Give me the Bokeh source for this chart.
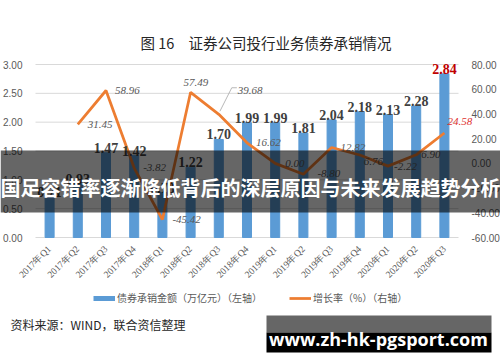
from bokeh.plotting import figure
from bokeh.models import (Range1d, LinearAxis, FixedTicker, NumeralTickFormatter,
                          Label, BoxAnnotation, Legend, LegendItem)
from bokeh.core.properties import value
from bokeh.embed import file_html
from bokeh.resources import INLINE
import math

# ---- data ----
quarters = ["2017年Q1", "2017年Q2", "2017年Q3", "2017年Q4",
            "2018年Q1", "2018年Q2", "2018年Q3", "2018年Q4",
            "2019年Q1", "2019年Q2", "2019年Q3", "2019年Q4",
            "2020年Q1", "2020年Q2", "2020年Q3"]
underwriting = [0.71, 0.93, 1.47, 1.42, 0.78, 1.22, 1.70, 1.99,
                1.99, 1.81, 2.04, 2.18, 2.13, 2.28, 2.84]
growth_quarters = quarters[1:]
growth = [31.45, 58.96, -3.82, -45.42, 57.49, 39.68, 16.62,
          0.00, -8.80, 12.82, 6.76, -2.22, 6.90, 24.58]
left_ticks = [0, 0.5, 1.0, 1.5, 2.0, 2.5, 3.0]
right_ticks = [-60, -40, -20, 0, 20, 40, 60, 80]

title_text = "证券公司投行业务债券承销情况"
fig_no = "图 16"
source_text = "资料来源：WIND，联合资信整理"
bar_name = "债券承销金额（万亿元）（左轴）"
line_name = "增长率（%）（右轴）"
overlay_text = "国足容错率逐渐降低背后的深层原因与未来发展趋势分析"
watermark = "www.zh-hk-pgsport.com"

# label offsets (styling, pixels)
g_dx = [10, 9, 9, 10, -7, 19, 9, 10, 14, 9, 4, 6, 5, 3]
g_dy = [0, 0, 1, 0, 10, 24, 0, 0, 1, 0, -6, 0, 0, 11]

BLUE = "#5b9bd5"
ORANGE = "#ed7d31"
GRAY = "#595959"

# ---- geometry of the plot area inside the 500x362 canvas ----
W, H = 500, 362
PL, PR, PT, PB = 35, 458, 64, 237          # plot area edges (px)
n = len(quarters)
xs = list(range(n))
gx = [quarters.index(q) for q in growth_quarters]
step = (PR - PL) / n
x_start = -0.5 - PL / step
x_end = n - 0.5 + (W - PR) / step
lmin, lmax = left_ticks[0], left_ticks[-1]
ppu = (PB - PT) / (lmax - lmin)
y_start = lmin - (H - PB) / ppu
y_end = lmax + PT / ppu
rmin, rmax = right_ticks[0], right_ticks[-1]
k = (rmax - rmin) / (lmax - lmin)
r_start = rmin + (y_start - lmin) * k
r_end = rmin + (y_end - lmin) * k

p = figure(width=W, height=H, x_range=Range1d(x_start, x_end), y_range=Range1d(y_start, y_end),
           output_backend="svg", toolbar_location=None, min_border=0)
p.extra_y_ranges = {"right": Range1d(r_start, r_end)}
p.outline_line_color = None
p.background_fill_color = "white"
p.border_fill_color = "white"
p.xgrid.visible = False
p.ygrid.visible = False

# horizontal gridlines across the category span
p.segment(x0=[xs[0] - 0.5] * len(left_ticks), x1=[xs[-1] + 0.5] * len(left_ticks),
          y0=left_ticks, y1=left_ticks, color="#d9d9d9", line_width=1)

bars = p.vbar(x=xs, top=underwriting, width=0.32, color=BLUE)
gl = p.line(x=gx, y=growth, y_range_name="right", color=ORANGE, line_width=2.75)

# leader line for 2018Q3 label
i5 = gx[5]
p.line(x=[i5 + 0.04, i5 + 0.46, i5 + 0.64], y=[growth[5] + 2.5, growth[5] + 21.5, growth[5] + 21.5],
       y_range_name="right", color="#a6a6a6", line_width=0.8)

# bar value labels
bar_colors = ["#404040"] * (n - 1) + ["#c00000"]
p.text(x=xs, y=underwriting, text=["%.2f" % v for v in underwriting],
       text_align="center", text_baseline="alphabetic", y_offset=-5,
       text_font=value("Liberation Serif"), text_font_style="bold", text_font_size="14px",
       text_color=bar_colors)

# growth labels
g_colors = ["#595959"] * (len(growth) - 1) + ["#e03030"]
p.text(x=gx, y=growth, text=["%.2f" % v for v in growth], y_range_name="right",
       x_offset=g_dx, y_offset=[-d for d in g_dy], text_align="left", text_baseline="middle",
       text_font=value("Liberation Serif"), text_font_style="italic", text_font_size="11px",
       text_color=g_colors)

# axes (fixed inside the canvas-sized frame)
la = p.yaxis[0]
la.ticker = FixedTicker(ticks=left_ticks)
la.formatter = NumeralTickFormatter(format="0.00")
la.fixed_location = xs[0] - 0.5
ra = LinearAxis(y_range_name="right", ticker=FixedTicker(ticks=right_ticks),
                formatter=NumeralTickFormatter(format="0.00"), fixed_location=xs[-1] + 0.5)
p.add_layout(ra, "right")
for ax in (la, ra):
    ax.axis_line_color = None
    ax.major_tick_line_color = None
    ax.minor_tick_line_color = None
    ax.major_label_text_font = "Liberation Sans"
    ax.major_label_text_font_size = "10px"
    ax.major_label_text_color = GRAY
    ax.major_label_standoff = 7
xa = p.xaxis[0]
xa.ticker = FixedTicker(ticks=xs)
xa.major_label_overrides = {i: q for i, q in zip(xs, quarters)}
xa.fixed_location = lmin
xa.axis_line_color = None
xa.major_tick_line_color = None
xa.minor_tick_line_color = None
xa.major_label_orientation = math.pi / 4
xa.major_label_text_font = "Liberation Serif"
xa.major_label_text_font_size = "9.5px"
xa.major_label_text_color = GRAY
xa.major_label_standoff = 4

# legend (blue swatch drawn by a no-data proxy line)
nan = float("nan")
proxy = p.line(x=[nan, nan], y=[nan, nan], color=BLUE, line_width=5)
legend = Legend(items=[LegendItem(label=bar_name, renderers=[proxy]),
                       LegendItem(label=line_name, renderers=[gl])],
                orientation="horizontal", location=(93, H - 305),
                border_line_color=None, background_fill_alpha=0,
                label_text_font_size="10px", label_text_color=GRAY,
                label_text_font="Noto Sans CJK SC",
                glyph_width=22, glyph_height=12, label_height=12,
                spacing=27, padding=0, margin=0, label_standoff=2)
p.add_layout(legend, "center")

def canvas_label(x, y, text, **kw):
    p.add_layout(Label(x=x, y=y, x_units="canvas", y_units="canvas", text=text,
                       text_baseline="middle", **kw))

def canvas_box(l, r, t, b, color, alpha):
    p.add_layout(BoxAnnotation(left=l, right=r, top=t, bottom=b,
                               left_units="canvas", right_units="canvas",
                               top_units="canvas", bottom_units="canvas",
                               fill_color=color, fill_alpha=alpha, line_color=None,
                               level="overlay"))

# titles and notes
canvas_label(140, 42, fig_no, text_font="Noto Sans CJK SC", text_font_size="14.5px",
             text_color="#262626", text_align="left")
canvas_label(188, 42, title_text, text_font="Noto Sans CJK SC", text_font_size="14.5px",
             text_color="#262626", text_align="left")
canvas_label(10, 324, source_text, text_font="Noto Sans CJK SC", text_font_size="12px",
             text_color="#262626", text_align="left")

# overlay band and watermark
canvas_box(0, W, 150, 212, "black", 0.6)
canvas_label(250, 187, overlay_text, text_font="Noto Sans CJK SC", text_font_style="bold",
             text_font_size="20px", text_color="white", text_align="center", level="overlay")
canvas_box(266, 491, 315, 332, "#666666", 1)
canvas_box(266, 491, 332, 352, "black", 1)
canvas_label(378, 338, watermark, text_font="Open Sans", text_font_style="bold",
             text_font_size="18px", text_color="white", text_align="center", level="overlay")

open("out.html", "w").write(file_html(p, INLINE))
